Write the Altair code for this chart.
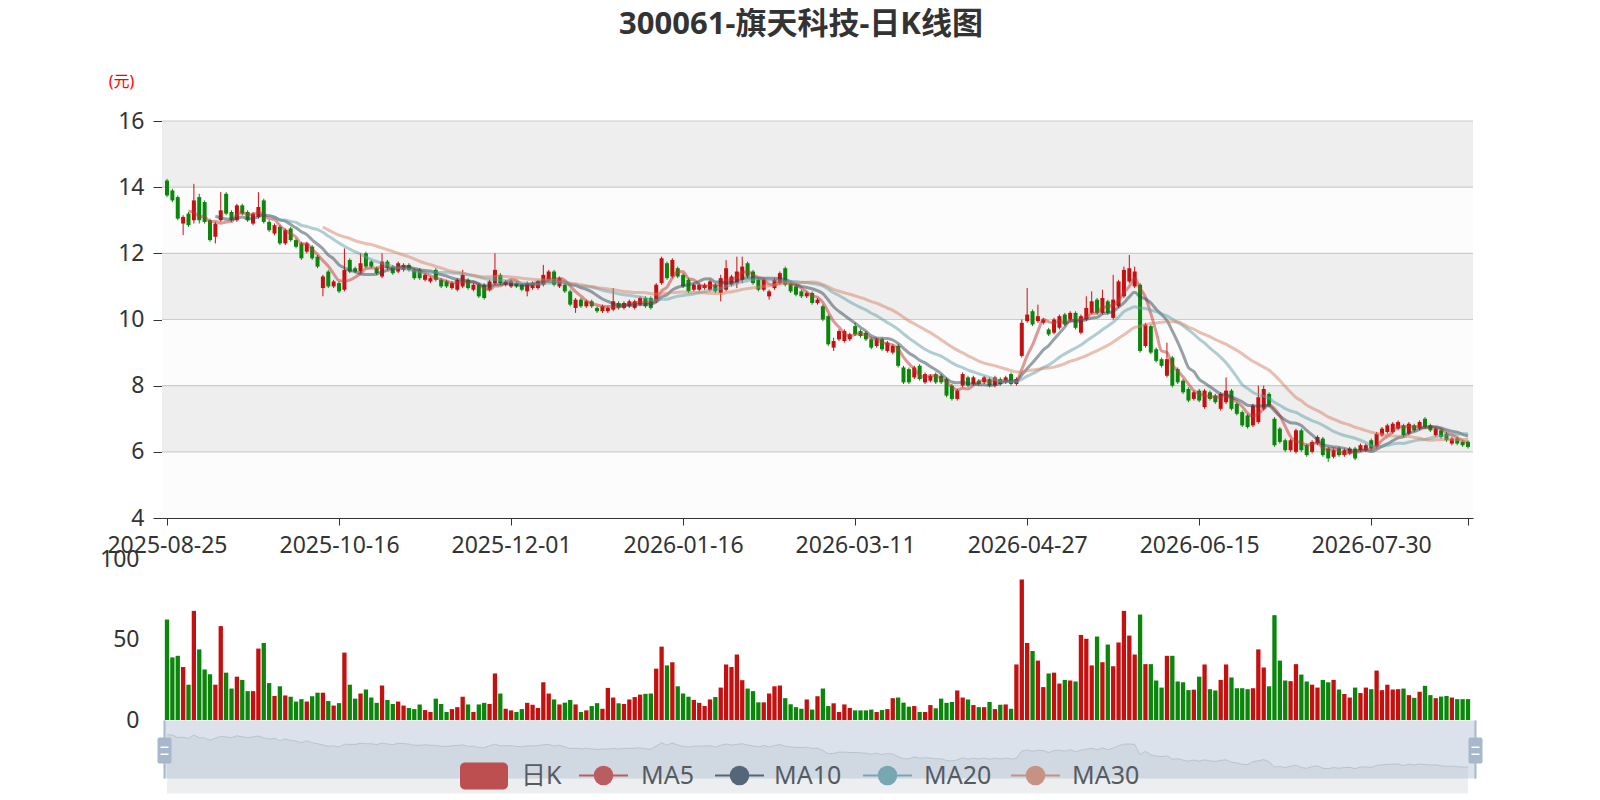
import altair as alt
import numpy as np
import pandas as pd

TITLE = "300061-旗天科技-日K线图"
UNIT_LABEL = "(元)"
START, END = "2025-08-25", "2026-08-25"
HOLIDAYS = ["2025-10-01", "2025-10-02", "2025-10-03", "2025-10-06", "2025-10-07", "2025-10-08",
            "2026-01-01", "2026-01-02", "2026-02-16", "2026-02-17", "2026-02-18", "2026-02-19",
            "2026-02-20", "2026-02-23", "2026-04-06", "2026-05-01", "2026-05-04", "2026-05-05",
            "2026-06-19"]

OPEN = [
    14.2, 13.9, 13.7, 12.9, 13.2, 13.0, 13.7, 13.55, 13.0, 12.5, 13.0, 13.8, 13.25, 13.0, 13.45,
    13.25, 12.9, 13.1, 13.6, 12.95, 12.6, 12.8, 12.3, 12.75, 12.4, 12.3, 12.05, 12.2, 11.9, 10.95,
    11.45, 11.0, 11.1, 10.9, 11.8, 11.55, 11.45, 12.0, 11.75, 11.55,
    11.3, 11.75, 11.6, 11.45, 11.5, 11.65, 11.5, 11.5, 11.2, 11.15, 11.5, 11.2, 11.15, 10.95, 10.9,
    11.0, 11.2, 10.9, 11.05, 11.05, 10.9, 11.1, 11.35, 11.05, 11.0, 11.1, 11.05, 10.85, 10.95, 10.95,
    11.05, 11.2, 11.45, 11.0, 11.05, 10.85, 10.35, 10.6,
    10.4, 10.55, 10.35, 10.25, 10.25, 10.3, 10.5, 10.35, 10.4, 10.35, 10.45, 10.65, 10.65, 10.55, 11.1,
    11.7, 11.3, 11.55, 11.35, 11.2, 10.9, 10.9, 10.95, 10.9, 11.05, 10.8, 10.9, 11.05, 11.1, 11.2,
    11.7, 11.45, 11.2, 10.9, 10.7, 10.95, 11.1, 11.55, 11.1, 11.0,
    10.85, 10.7, 10.8, 10.5, 10.4, 10.1, 9.15, 9.4, 9.35, 9.4, 9.8, 9.65, 9.6, 9.4, 9.2,
    9.4, 9.05, 9.0, 9.2, 8.55, 8.5, 8.25, 8.6, 8.1, 8.15, 8.35, 8.3, 8.2, 8.0, 7.6,
    8.0, 8.25, 8.05, 8.15, 8.1, 8.2, 8.0, 8.2, 8.1, 8.35,
    8.05, 8.9, 9.95, 10.25, 9.95, 9.9, 9.7, 9.6, 9.75, 10.15, 10.0, 10.2, 9.6, 10.0, 10.2,
    10.6, 10.2, 10.55,
    10.05, 10.4, 10.7, 11.15, 11.0, 11.05, 9.2, 9.8, 9.1, 8.8, 8.3, 8.85, 8.5, 8.15, 7.9,
    7.6, 7.85, 7.35, 7.8, 7.7, 7.3, 7.5, 7.85, 7.45, 7.2, 7.1, 6.8, 6.9, 7.3, 7.75,
    7.0, 6.7, 6.35, 6.05, 6.0, 6.65, 6.2, 6.0, 6.25, 6.4, 6.1, 5.85, 6.1, 5.9, 5.95,
    6.1, 6.05, 6.05, 6.35, 6.15, 6.5, 6.6, 6.6, 6.7, 6.8, 6.55, 6.8, 6.7, 7.0, 6.8,
    6.5, 6.65, 6.55, 6.25, 6.4, 6.3, 6.3]
CLOSE = [
    13.75, 13.6, 13.05, 13.1, 12.85, 13.6, 13.0, 12.95, 12.4, 12.9, 13.3, 13.2, 13.0, 13.45, 13.2,
    13.0, 13.2, 13.4, 12.95, 12.7, 12.85, 12.3, 12.7, 12.4, 12.2, 11.85, 12.3, 11.85, 11.6, 11.3,
    11.0, 11.15, 10.85, 11.5, 11.45, 11.45, 11.7, 11.6, 11.6, 11.4,
    11.75, 11.55, 11.4, 11.7, 11.65, 11.5, 11.25, 11.25, 11.35, 11.25, 11.2, 11.0, 11.0, 11.1, 11.2,
    11.35, 10.95, 11.05, 10.7, 10.65, 11.15, 11.5, 11.1, 11.15, 11.15, 11.0, 10.9, 11.1, 11.1, 11.15,
    11.35, 11.45, 11.05, 11.25, 10.85, 10.45, 10.6, 10.4,
    10.55, 10.4, 10.25, 10.4, 10.35, 10.55, 10.35, 10.5, 10.55, 10.55, 10.65, 10.4, 10.35, 11.05, 11.85,
    11.25, 11.8, 11.3, 11.0, 10.85, 11.05, 11.05, 11.05, 11.15, 10.85, 11.25, 11.55, 11.3, 11.45, 11.6,
    11.3, 11.1, 10.9, 11.2, 10.85, 11.2, 11.4, 11.05, 10.85, 10.75,
    10.7, 10.8, 10.5, 10.6, 10.0, 9.25, 9.35, 9.65, 9.65, 9.55, 9.55, 9.5, 9.4, 9.15, 9.4,
    9.1, 9.3, 9.2, 8.6, 8.1, 8.1, 8.55, 8.2, 8.35, 8.3, 8.1, 8.1, 7.7, 7.6, 7.85,
    8.35, 8.0, 8.25, 8.05, 8.25, 8.0, 8.25, 8.05, 8.25, 8.05,
    8.2, 9.9, 10.15, 9.85, 10.1, 10.0, 9.55, 10.0, 10.1, 9.85, 10.2, 9.75, 10.1, 10.35, 10.55,
    10.2, 10.65, 10.2,
    10.6, 11.15, 11.5, 11.55, 11.45, 9.05, 9.85, 9.0, 8.75, 8.6, 8.8, 8.0, 8.1, 7.8, 7.55,
    7.8, 7.55, 7.85, 7.6, 7.5, 7.75, 7.85, 7.3, 7.15, 6.8, 6.75, 7.4, 7.65, 7.9, 7.4,
    6.2, 6.3, 6.05, 6.35, 6.65, 6.05, 5.9, 6.3, 6.45, 5.9, 5.8, 6.05, 5.9, 6.05, 6.1,
    5.8, 6.2, 6.2, 6.1, 6.55, 6.7, 6.8, 6.85, 6.9, 6.5, 6.85, 6.65, 6.9, 6.75, 6.65,
    6.7, 6.45, 6.35, 6.4, 6.25, 6.2, 6.15]
HIGH = [
    14.25, 13.95, 13.75, 13.15, 13.25, 14.1, 13.8, 13.6, 13.05, 12.95, 13.85, 13.85, 13.3, 13.5, 13.5,
    13.3, 13.25, 13.85, 13.65, 13.0, 12.9, 12.85, 12.75, 12.8, 12.45, 12.35, 12.35, 12.25, 11.95, 11.35,
    11.5, 11.2, 11.15, 12.15, 11.85, 11.6, 12.0, 12.05, 11.8, 11.6,
    12.0, 11.8, 11.65, 11.75, 11.7, 11.7, 11.55, 11.55, 11.4, 11.3, 11.55, 11.25, 11.2, 11.15, 11.25,
    11.5, 11.25, 11.1, 11.1, 11.1, 11.2, 12.0, 11.4, 11.2, 11.2, 11.15, 11.1, 11.15, 11.15, 11.2,
    11.65, 11.5, 11.5, 11.3, 11.1, 10.9, 10.65, 10.65,
    10.6, 10.6, 10.4, 10.45, 10.4, 10.95, 10.55, 10.55, 10.6, 10.6, 10.7, 10.7, 10.7, 11.1, 11.9,
    11.75, 11.85, 11.6, 11.4, 11.25, 11.1, 11.1, 11.1, 11.2, 11.1, 11.35, 11.8, 11.35, 11.9, 11.9,
    11.75, 11.5, 11.25, 11.25, 10.9, 11.25, 11.45, 11.6, 11.15, 11.05,
    10.9, 10.85, 10.85, 10.65, 10.45, 10.15, 9.45, 9.7, 9.7, 9.6, 9.9, 9.7, 9.65, 9.45, 9.45,
    9.45, 9.35, 9.25, 9.25, 8.6, 8.55, 8.6, 8.65, 8.4, 8.35, 8.4, 8.35, 8.25, 8.05, 7.9,
    8.4, 8.3, 8.3, 8.2, 8.3, 8.25, 8.3, 8.25, 8.3, 8.4,
    8.25, 10.0, 10.95, 10.3, 10.45, 10.05, 9.75, 10.05, 10.15, 10.2, 10.25, 10.25, 10.15, 10.7, 10.85,
    10.65, 10.9, 10.6,
    11.35, 11.2, 11.6, 11.95, 11.6, 11.1, 9.9, 9.85, 9.15, 8.85, 9.3, 8.9, 8.55, 8.2, 7.95,
    7.85, 7.9, 7.9, 7.85, 7.75, 7.8, 8.25, 7.9, 7.5, 7.25, 7.15, 7.45, 8.0, 8.0, 7.8,
    7.05, 6.75, 6.4, 6.4, 6.7, 6.7, 6.25, 6.35, 6.5, 6.45, 6.15, 6.1, 6.15, 6.1, 6.15,
    6.15, 6.25, 6.25, 6.4, 6.6, 6.75, 6.85, 6.9, 6.95, 6.85, 6.9, 6.85, 6.95, 7.05, 6.85,
    6.75, 6.7, 6.6, 6.45, 6.45, 6.35, 6.35]
LOW = [
    13.7, 13.55, 13.0, 12.55, 12.8, 12.9, 12.9, 12.9, 12.35, 12.3, 12.95, 13.15, 12.95, 12.95, 13.15,
    12.95, 12.85, 13.05, 12.9, 12.65, 12.55, 12.25, 12.25, 12.35, 12.15, 11.8, 12.0, 11.8, 11.55, 10.7,
    10.95, 10.95, 10.8, 10.85, 11.4, 11.4, 11.4, 11.55, 11.55, 11.35,
    11.25, 11.5, 11.35, 11.4, 11.45, 11.45, 11.2, 11.2, 11.15, 11.1, 11.15, 10.95, 10.95, 10.9, 10.85,
    10.95, 10.9, 10.85, 10.65, 10.6, 10.85, 11.05, 11.05, 11.0, 10.95, 10.95, 10.85, 10.7, 10.9, 10.9,
    11.0, 11.15, 11.0, 10.95, 10.8, 10.4, 10.2, 10.35,
    10.35, 10.35, 10.2, 10.2, 10.2, 10.25, 10.3, 10.3, 10.35, 10.3, 10.4, 10.35, 10.3, 10.5, 11.05,
    11.2, 11.25, 11.25, 10.95, 10.8, 10.85, 10.85, 10.9, 10.85, 10.8, 10.55, 10.85, 11.0, 10.95, 11.1,
    11.25, 11.05, 10.85, 10.85, 10.6, 10.9, 11.05, 11.0, 10.8, 10.7,
    10.65, 10.65, 10.45, 10.45, 9.95, 9.2, 9.05, 9.35, 9.3, 9.35, 9.5, 9.45, 9.35, 9.1, 9.15,
    9.05, 9.0, 8.95, 8.55, 8.05, 8.05, 8.2, 8.15, 8.05, 8.1, 8.05, 8.05, 7.65, 7.55, 7.55,
    7.95, 7.95, 8.0, 8.0, 8.05, 7.95, 7.95, 8.0, 8.05, 8.0,
    8.0, 8.85, 9.9, 9.8, 9.9, 9.85, 9.5, 9.55, 9.7, 9.8, 9.95, 9.7, 9.55, 9.95, 10.15,
    10.15, 10.15, 10.15,
    10.0, 10.35, 10.65, 11.1, 10.95, 9.0, 9.15, 8.95, 8.7, 8.55, 8.25, 7.95, 8.05, 7.75, 7.5,
    7.55, 7.5, 7.3, 7.55, 7.45, 7.25, 7.45, 7.25, 7.1, 6.75, 6.7, 6.75, 6.85, 7.25, 7.35,
    6.15, 6.25, 6.0, 6.0, 5.95, 6.0, 5.85, 5.95, 6.2, 5.85, 5.7, 5.8, 5.85, 5.85, 5.9,
    5.75, 6.0, 6.0, 6.05, 6.1, 6.45, 6.55, 6.55, 6.65, 6.45, 6.5, 6.6, 6.65, 6.7, 6.6,
    6.45, 6.4, 6.3, 6.2, 6.2, 6.15, 6.1]
VOLUME = [
    62.6, 39, 40, 33, 22, 68, 44, 31.5, 28.5, 22,
    58.5, 29.5, 19.6, 27, 25, 18, 18, 44.5, 48, 23,
    15, 21, 15.3, 14.5, 11.5, 13, 11.5, 14.8, 17, 17,
    11.8, 9, 10.5, 42, 22, 13.3, 16.5, 19, 14, 10.7,
    21.5, 12.5, 10, 11.5, 9, 7.5, 6.8, 9.7, 6.2, 5,
    13.3, 10, 5, 6.8, 8, 14.5, 9.7, 5, 9.7, 10.7,
    10, 29, 16.5, 7, 6, 5, 6.8, 10.7, 9.5, 7.5,
    23.5, 16.5, 12.8, 9.7, 10.8, 12.5, 9.7, 5, 6, 8.7,
    10.5, 7, 20, 14, 10.4, 10, 12.8, 14.3, 15.8, 16.3,
    16.5, 32, 45.7, 34, 36, 21, 16.5, 14.5, 12.5, 10.7,
    8.7, 12.8, 14.3, 20.2, 34.6, 33, 40.8, 24.8, 19.6, 18,
    11, 11, 16.5, 21, 21.5, 13.6, 9.8, 8, 7,
    12.8, 6.5, 14.8, 19.6, 8.7, 10.4, 5, 9.7, 7.5, 6,
    6, 6, 6.5, 5, 6.2, 6.8, 13.6, 14, 10.8, 8.3,
    8.7, 5, 5, 9.3, 7.3, 13.3, 10.7, 11.2, 18.4, 14,
    12.8, 9.3, 8, 8, 11.2, 6.8, 9.5, 9.7, 7, 34.6,
    87.6, 48, 43, 37, 20.5, 29, 29.5, 22.7, 25, 24.6,
    24, 53, 50.6, 34, 52, 36, 47, 33.5, 48.3, 68,
    52.6, 40.8, 65.7, 34.8, 34.8, 24.6, 20.2, 40, 40, 24,
    23.5, 18.6, 18.9, 27, 34.6, 19.2, 18.4, 25, 34.6, 26.5,
    19.8, 19.8, 19.2, 19.8, 44, 32.7, 21, 65.3, 37, 24.6,
    24.2, 34.8, 28.3, 24, 22, 20.2, 25, 23.5, 25, 19,
    16.2, 14, 20.2, 16.8, 20.2, 19.2, 30.8, 18.6, 22, 19,
    19.2, 19.6, 15.5, 13.8, 17.6, 21.3, 15.5, 13.6, 14.6,
    15, 14, 13, 13, 13]

PRICE_TICKS = [4, 6, 8, 10, 12, 14, 16]
VOL_TICKS = [0, 50, 100]
MA_NAMES = ["MA5", "MA10", "MA20", "MA30"]
MA_WINDOWS = [5, 10, 20, 30]
LEGEND_NAMES = ["日K"] + MA_NAMES

# ---- styles ----
FONT = "Noto Sans, Noto Sans CJK SC, sans-serif"
UP, DOWN = "#c4100f", "#0a860a"
MA_COLORS = ["#c23531", "#2f4554", "#61a0a8", "#d48265"]
W, H = 1311, 397
BH = 219

n = len(CLOSE)
trading = [d.strftime("%Y-%m-%d") for d in pd.bdate_range(START, END)
           if d.strftime("%Y-%m-%d") not in HOLIDAYS]
dates = trading[:n]

df = pd.DataFrame({"i": list(range(n)), "date": dates, "open": OPEN, "close": CLOSE,
                   "high": HIGH, "low": LOW, "vol": VOLUME})
df["dir"] = np.where(df["close"] >= df["open"], "up", "down")

rows = []
s = pd.Series(CLOSE)
for name, w in zip(MA_NAMES, MA_WINDOWS):
    m = s.rolling(w).mean()
    for i, v in enumerate(m):
        if not np.isnan(v):
            rows.append({"i": i, "ma": round(float(v), 3), "name": name})
ma_df = pd.DataFrame(rows)

tick_vals = list(range(0, n, 32)) + [n - 1]
tick_labels = [dates[v] for v in range(0, n, 32)]
label_arr = "[" + ",".join("'%s'" % t for t in tick_labels) + "]"
label_expr = "datum.value %% 32 == 0 ? %s[round(datum.value / 32)] : ''" % label_arr

xs = alt.Scale(domain=[0, n - 1], nice=False, zero=False)
ys = alt.Scale(domain=[4, 16], nice=False, zero=False)
dir_scale = alt.Scale(domain=["up", "down"], range=[UP, DOWN])

xaxis = alt.Axis(values=tick_vals, labelExpr=label_expr, title=None, grid=False,
                 labelFontSize=23, labelColor="#333", labelFont=FONT,
                 domainColor="#333", tickColor="#333", tickSize=7, labelPadding=9,
                 labelFlush=False, labelOverlap=False)
yaxis = alt.Axis(values=PRICE_TICKS, title=UNIT_LABEL, titleAngle=0, titleColor="red",
                 titleFontSize=16, titleFontWeight="normal", titleFont=FONT,
                 titleX=-41, titleY=-40, titleAlign="center", titleBaseline="middle",
                 labelFontSize=23, labelColor="#333", labelFont=FONT,
                 domainColor="#333", tickColor="#333", tickSize=9, labelPadding=9, grid=False)


def XQ(f):
    return alt.X(f, type="quantitative", scale=xs, axis=xaxis)


def YQ(f):
    return alt.Y(f, type="quantitative", scale=ys, axis=yaxis)


bands_df = pd.DataFrame({
    "lo": PRICE_TICKS[:-1], "hi": PRICE_TICKS[1:],
    "c": ["#fcfcfc" if k % 2 == 0 else "#eeeeee" for k in range(len(PRICE_TICKS) - 1)]})
grid_df = pd.DataFrame({"v": PRICE_TICKS[1:]})
one = pd.DataFrame({"t": [TITLE]})

bands = alt.Chart(bands_df).mark_rect().encode(
    x=alt.value(0), x2=alt.value(W), y=YQ("lo"), y2="hi", color=alt.Color("c:N", scale=None))
grid = alt.Chart(grid_df).mark_rule(color="#cccccc", strokeWidth=1.2).encode(
    x=alt.value(0), x2=alt.value(W), y=YQ("v"))
wick = alt.Chart(df).mark_rule(strokeWidth=1).encode(
    x=XQ("i"), y=YQ("low"), y2="high",
    color=alt.Color("dir:N", scale=dir_scale, legend=None))
body = alt.Chart(df).mark_bar(size=4).encode(
    x=XQ("i"), y=YQ("open"), y2="close",
    color=alt.Color("dir:N", scale=dir_scale, legend=None))
lines = alt.Chart(ma_df).mark_line(strokeWidth=3, opacity=0.5, interpolate="monotone").encode(
    x=XQ("i"), y=YQ("ma"),
    color=alt.Color("name:N", scale=alt.Scale(domain=MA_NAMES, range=MA_COLORS), legend=None),
    detail="name:N")
title_txt = alt.Chart(one).mark_text(fontSize=31, fontWeight="bold", font=FONT, color="#333",
                                     align="center", baseline="middle").encode(
    text="t:N", x=alt.value(639), y=alt.value(-96))
anchor = alt.Chart(one).mark_point(opacity=0, size=1).encode(
    x=alt.value(-153), y=alt.value(-112.5))

main = alt.layer(bands, grid, wick, body, lines, title_txt, anchor).resolve_scale(
    color="independent").properties(width=W, height=H, view=alt.ViewBackground(stroke=None))

# ---- bottom: volume + slider + legend ----
vol_axis = alt.Axis(values=VOL_TICKS, title=None, grid=False, domain=False, ticks=False,
                    labelFontSize=23, labelColor="#333", labelFont=FONT, labelPadding=23)
vol_scale = alt.Scale(domain=[0, 100], range=[160.5, 0], nice=False)
sl_scale = alt.Scale(domain=[3.5, 17], range=[BH, 161], nice=False, zero=False)
xb = alt.X("i:Q", scale=xs, axis=None)

vol = alt.Chart(df).mark_bar(size=4.3).encode(
    x=xb, y=alt.Y("vol:Q", scale=vol_scale, axis=vol_axis),
    color=alt.Color("dir:N", scale=dir_scale, legend=None))
sh_area = alt.Chart(df).mark_area(color="#2f4554", opacity=0.09).encode(
    x=xb, y=alt.Y("close:Q", scale=sl_scale, axis=None), y2=alt.value(BH))
sh_line = alt.Chart(df).mark_line(color="#2f4554", opacity=0.3, strokeWidth=0.8).encode(
    x=xb, y=alt.Y("close:Q", scale=sl_scale, axis=None))
filler = alt.Chart(one).mark_rect(color="#a7b7cc", opacity=0.4).encode(
    x=alt.value(2), x2=alt.value(1314), y=alt.value(161), y2=alt.value(BH))

layers = [vol, sh_area, sh_line, filler]
for hx in [2.5, 1313.5]:
    layers.append(alt.Chart(one).mark_rule(color="#a7b7cc", strokeWidth=2).encode(
        x=alt.value(hx), y=alt.value(161), y2=alt.value(BH)))
    layers.append(alt.Chart(one).mark_rect(color="#a7b7cc", cornerRadius=2).encode(
        x=alt.value(hx - 7), x2=alt.value(hx + 7), y=alt.value(178), y2=alt.value(204)))
    for yy in [187, 194]:
        layers.append(alt.Chart(one).mark_rect(color="white").encode(
            x=alt.value(hx - 4), x2=alt.value(hx + 4), y=alt.value(yy), y2=alt.value(yy + 1.5)))


def blend(hexc, a=0.3):
    c = [int(hexc[k:k + 2], 16) for k in (1, 3, 5)]
    f = [167, 183, 204]
    return "#%02x%02x%02x" % tuple(int(round(c[k] * (1 - a) + f[k] * a)) for k in range(3))


LY = 216
TXT = blend("#333333")
layers.append(alt.Chart(one).mark_rect(color=blend("#c23531", 0.2), cornerRadius=5).encode(
    x=alt.value(298), x2=alt.value(346), y=alt.value(203), y2=alt.value(230)))
layers.append(alt.Chart(pd.DataFrame({"t": [LEGEND_NAMES[0]]})).mark_text(
    fontSize=25, font=FONT, color=TXT, align="left", baseline="middle").encode(
    text="t:N", x=alt.value(359), y=alt.value(LY)))
starts = [417, 553, 701, 849]
text_x = [479, 612, 762, 910]
for name, col, x0, tx in zip(MA_NAMES, MA_COLORS, starts, text_x):
    cc = blend(col)
    layers.append(alt.Chart(one).mark_rule(color=cc, strokeWidth=2).encode(
        x=alt.value(x0), x2=alt.value(x0 + 49), y=alt.value(LY)))
    layers.append(alt.Chart(one).mark_point(filled=True, color=cc, size=380, opacity=1,
                                            shape="circle").encode(
        x=alt.value(x0 + 24.5), y=alt.value(LY)))
    layers.append(alt.Chart(pd.DataFrame({"t": [name]})).mark_text(
        fontSize=25, font=FONT, color=TXT, align="left", baseline="middle").encode(
        text="t:N", x=alt.value(tx), y=alt.value(LY)))

bottom = alt.layer(*layers).resolve_scale(y="independent", color="independent").properties(
    width=W, height=BH, view=alt.ViewBackground(stroke=None))

chart = alt.vconcat(main, bottom, spacing=41.5, bounds="flush").properties(
    padding={"left": 0, "top": 0, "right": 5, "bottom": 5}
).configure(font=FONT, background="white").configure_view(stroke=None)

chart.save("out.html", embed_options={"renderer": "svg", "actions": False})
